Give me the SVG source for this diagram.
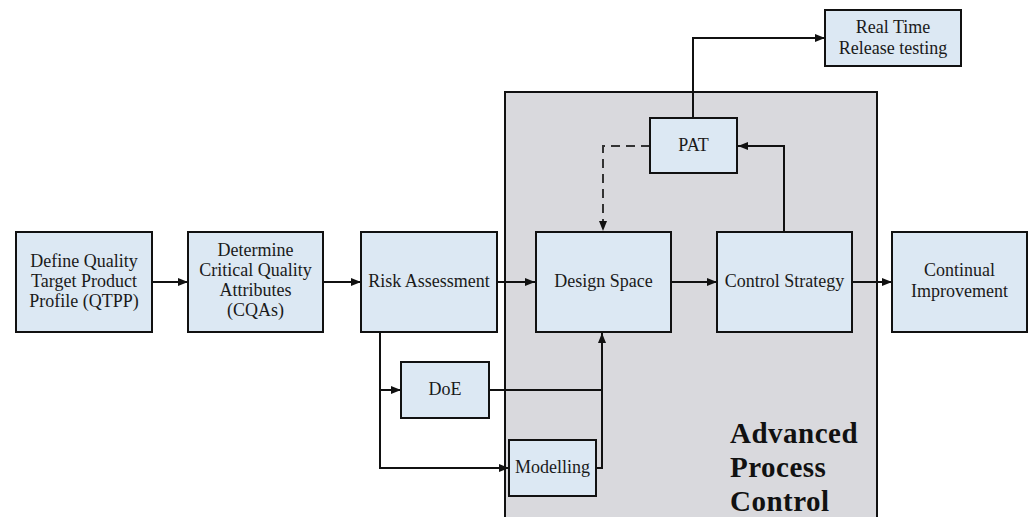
<svg xmlns="http://www.w3.org/2000/svg" width="1030" height="517" viewBox="0 0 1030 517">
  <style>
    .box { fill: #dce8f3; stroke: #111; stroke-width: 2; }
    .lbl { font-family: "Liberation Serif", "DejaVu Serif", serif; font-size: 18px; fill: #1a1a1a; text-anchor: middle; }
    .wire { fill: none; stroke: #111; stroke-width: 2; }
    .dash { stroke-dasharray: 9 6; stroke: #333; }
    .big { font-family: "Liberation Serif", "DejaVu Serif", serif; font-size: 29px; font-weight: bold; fill: #111; letter-spacing: 0.5px; }
  </style>
  <defs>
    <marker id="arr" markerWidth="10" markerHeight="8" refX="10" refY="4" orient="auto" markerUnits="userSpaceOnUse">
      <path d="M0,0 L10,4 L0,8 Z" fill="#111"/>
    </marker>
  </defs>
  <rect width="1030" height="517" fill="#fff"/>

  <!-- advanced process control region -->
  <g id="apc">
    <rect x="505" y="92" width="372" height="440" fill="#d9d9dd" stroke="#111" stroke-width="2"/>
    <text class="big" x="730" y="443">Advanced</text>
    <text class="big" x="730" y="477">Process</text>
    <text class="big" x="730" y="511">Control</text>
  </g>

  <g id="connectors">
    <line class="wire" x1="152" y1="282" x2="188" y2="282" marker-end="url(#arr)"/>
    <line class="wire" x1="323" y1="282" x2="361" y2="282" marker-end="url(#arr)"/>
    <line class="wire" x1="497" y1="282" x2="535" y2="282" marker-end="url(#arr)"/>
    <line class="wire" x1="671" y1="282" x2="717" y2="282" marker-end="url(#arr)"/>
    <line class="wire" x1="852" y1="282" x2="892" y2="282" marker-end="url(#arr)"/>
    <polyline class="wire" points="784,231 784,146 738,146" marker-end="url(#arr)"/>
    <polyline class="wire" points="693,118 693,38 825,38" marker-end="url(#arr)"/>
    <polyline class="wire dash" points="650,146 603,146 603,231" marker-end="url(#arr)"/>
    <polyline class="wire" points="380,332 380,468 509,468" marker-end="url(#arr)"/>
    <line class="wire" x1="380" y1="390" x2="401" y2="390" marker-end="url(#arr)"/>
    <polyline class="wire" points="489,390 602,390"/>
    <polyline class="wire" points="596,468 602,468 602,333" marker-end="url(#arr)"/>
  </g>

  <g id="qtpp">
    <rect class="box" x="16" y="232" width="136" height="100"/>
    <text class="lbl" x="84" y="267">Define Quality</text>
    <text class="lbl" x="84" y="287">Target Product</text>
    <text class="lbl" x="84" y="307">Profile (QTPP)</text>
  </g>
  <g id="cqa">
    <rect class="box" x="188" y="232" width="135" height="100"/>
    <text class="lbl" x="255.5" y="256">Determine</text>
    <text class="lbl" x="255.5" y="276">Critical Quality</text>
    <text class="lbl" x="255.5" y="296">Attributes</text>
    <text class="lbl" x="255.5" y="316">(CQAs)</text>
  </g>
  <g id="risk">
    <rect class="box" x="361" y="232" width="136" height="100"/>
    <text class="lbl" x="429" y="287">Risk Assessment</text>
  </g>
  <g id="design">
    <rect class="box" x="536" y="232" width="135" height="100"/>
    <text class="lbl" x="603.5" y="287">Design Space</text>
  </g>
  <g id="control">
    <rect class="box" x="717" y="232" width="135" height="100"/>
    <text class="lbl" x="784.5" y="287">Control Strategy</text>
  </g>
  <g id="improve">
    <rect class="box" x="892" y="232" width="135" height="100"/>
    <text class="lbl" x="959.5" y="276">Continual</text>
    <text class="lbl" x="959.5" y="297">Improvement</text>
  </g>
  <g id="pat">
    <rect class="box" x="650" y="118" width="87" height="55"/>
    <text class="lbl" x="693.5" y="151">PAT</text>
  </g>
  <g id="rtrt">
    <rect class="box" x="825" y="10" width="136" height="56"/>
    <text class="lbl" x="893" y="33">Real Time</text>
    <text class="lbl" x="893" y="54">Release testing</text>
  </g>
  <g id="doe">
    <rect class="box" x="401" y="362" width="88" height="56"/>
    <text class="lbl" x="445" y="395">DoE</text>
  </g>
  <g id="model">
    <rect class="box" x="509" y="440" width="87" height="56"/>
    <text class="lbl" x="552.5" y="473">Modelling</text>
  </g>
</svg>
